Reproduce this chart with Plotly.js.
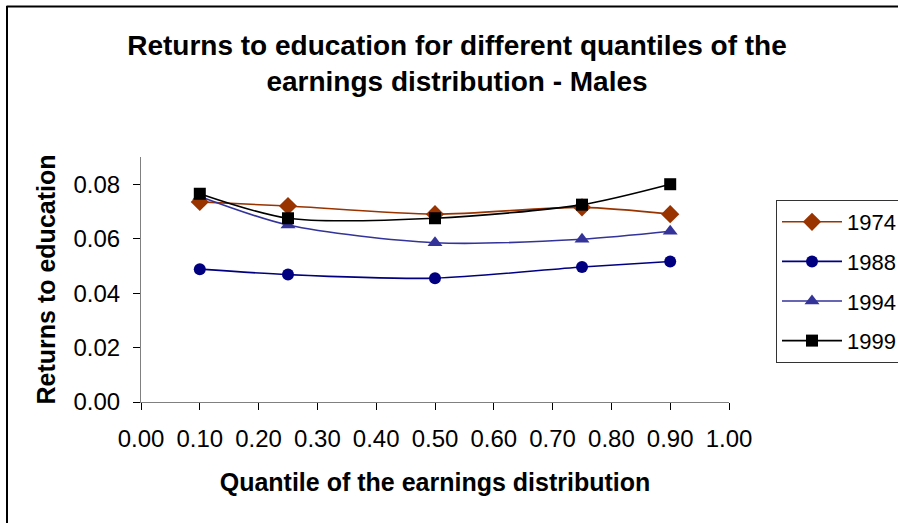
<!DOCTYPE html>
<html>
<head>
<meta charset="utf-8">
<script src="https://cdn.plot.ly/plotly-3.0.1.min.js"></script>
<style>html,body{margin:0;padding:0;background:#fff;overflow:hidden;}#chart{width:898px;height:523px;}</style>
</head>
<body>
<div id="chart"></div>
<script>
var quantiles = [0.10, 0.25, 0.50, 0.75, 0.90];
var seriesNames = ["1974", "1988", "1994", "1999"];
var y1974 = [0.0735, 0.0720, 0.0690, 0.0715, 0.0690];
var y1988 = [0.0488, 0.0468, 0.0455, 0.0496, 0.0516];
var y1994 = [0.0755, 0.0650, 0.0585, 0.0598, 0.0627];
var y1999 = [0.0765, 0.0675, 0.0675, 0.0725, 0.0800];
var xTickVals = [0, 0.1, 0.2, 0.3, 0.4, 0.5, 0.6, 0.7, 0.8, 0.9, 1.0];
var yTickVals = [0, 0.02, 0.04, 0.06, 0.08];

var FONT = "Arial, 'Liberation Sans', sans-serif";
var colors = ["#993300", "#000080", "#333399", "#000000"];
var symbols = ["diamond", "circle", "triangle-up", "square"];
var sizes = [14, 12, 13, 12];
var values = [y1974, y1988, y1994, y1999];

var traces = values.map(function (v, i) {
  return {
    x: quantiles, y: v, name: seriesNames[i], legendgroup: "g" + i,
    type: "scatter", mode: "lines+markers",
    line: {color: colors[i], width: 1.6, shape: "spline", smoothing: 0.8},
    marker: {symbol: symbols[i], size: sizes[i], color: colors[i]}
  };
});

var L = 141, R = 729, T = 157, B = 402, W = 898, H = 523;
function px2x(p) { return (p - L) / (R - L); }
function py2y(p) { return (B - p) / (B - T); }

var layout = {
  width: W, height: H,
  margin: {l: L, r: W - R, t: T, b: H - B, pad: 0, autoexpand: false},
  paper_bgcolor: "#fff", plot_bgcolor: "#fff",
  font: {family: FONT, color: "#000", size: 22},
  title: {
    text: "<b>Returns to education for different quantiles of the<br>earnings distribution - Males</b>",
    font: {family: FONT, size: 28, color: "#000"},
    x: 457 / W, xanchor: "center", y: 1 - 55 / H, yanchor: "top"
  },
  xaxis: {
    range: [0, 1], tickvals: xTickVals, tickformat: ".2f",
    ticks: "outside", ticklen: 7, tickcolor: "#000", tickwidth: 1, ticklabelstandoff: 8,
    showline: true, linecolor: "#808080", linewidth: 1, showgrid: false, zeroline: false,
    tickfont: {size: 24, family: FONT},
    title: {text: "<b>Quantile of the earnings distribution</b>", font: {size: 25, family: FONT}, standoff: 22}
  },
  yaxis: {
    range: [0, 0.09], tickvals: yTickVals, tickformat: ".2f",
    ticks: "outside", ticklen: 7, tickcolor: "#000", tickwidth: 1, ticklabelstandoff: 8,
    showline: true, linecolor: "#808080", linewidth: 1, showgrid: false, zeroline: false,
    tickfont: {size: 24, family: FONT},
    title: {text: "<b>Returns to education</b>", font: {size: 25, family: FONT}, standoff: 10}
  },
  showlegend: true,
  legend: {
    x: px2x(776), xanchor: "left", y: py2y(200), yanchor: "top",
    bordercolor: "#333", borderwidth: 1, bgcolor: "#fff",
    font: {size: 22, family: FONT}, tracegroupgap: 8, itemwidth: 60
  },
  shapes: [
    {type: "line", xref: "paper", yref: "paper", x0: px2x(6.5), x1: px2x(898), y0: py2y(6.5), y1: py2y(6.5),
     line: {color: "#000", width: 2}, layer: "above"},
    {type: "line", xref: "paper", yref: "paper", x0: px2x(7), x1: px2x(7), y0: py2y(6), y1: py2y(523),
     line: {color: "#000", width: 2}, layer: "above"}
  ]
};

Plotly.newPlot("chart", traces, layout, {displayModeBar: false, staticPlot: true});
</script>
</body>
</html>
